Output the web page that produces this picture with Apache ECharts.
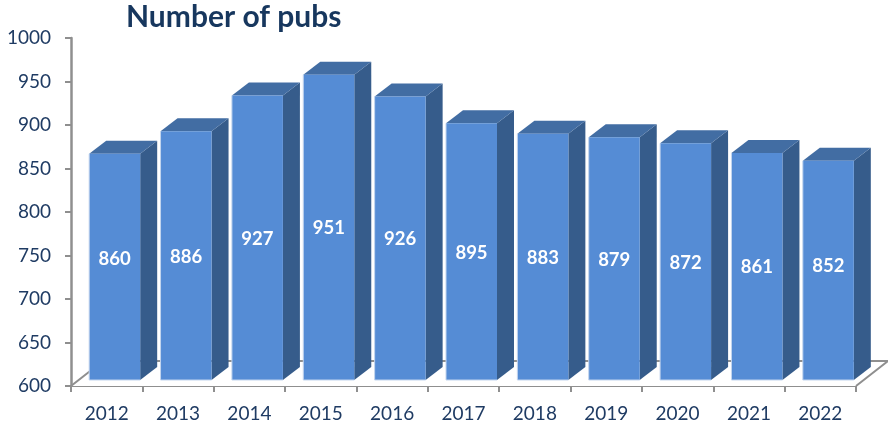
<!DOCTYPE html>
<html>
<head>
<meta charset="utf-8">
<style>html,body{margin:0;padding:0;background:#fff}#chart{width:888px;height:428px}</style>
<script src="https://cdn.jsdelivr.net/npm/echarts@6/dist/echarts.min.js"></script>
</head>
<body>
<div id="chart"></div>
<script>
// Yearly pub counts
const years = ['2012','2013','2014','2015','2016','2017','2018','2019','2020','2021','2022'];
const pubs = [860,886,927,951,926,895,883,879,872,861,852];
const chartTitle = 'Number of pubs';

// Vertical nudges for the two labels set off the face centre, in pixels
const labelNudge = {2012: -9, 2022: -5};

const FRONT = '#558cd5', SIDE = '#365c8b', TOP = '#426da3', EDGE = '#c3d5ee';
const INK = '#1f3b63', AXIS = '#8f8f8f';
const DEPTH_X = 17, DEPTH_Y = 13;     // bar extrusion
const FLOOR_X = 32, FLOOR_Y = 25;     // floor extrusion
const FRONT_LIFT = 6;                 // front faces stand this far above the axis plane
const BAR_W = 51;

function renderBar(params, api) {
  const i = api.value(0);
  const v = api.value(1);
  const cx = api.coord([i, v])[0] + DEPTH_X / 2 - 0.5;
  const x0 = cx - BAR_W / 2, x1 = cx + BAR_W / 2;
  const yTop = api.coord([i, v])[1] - FRONT_LIFT;
  const yBot = api.coord([i, 600])[1] - FRONT_LIFT;
  const dx = DEPTH_X, dy = DEPTH_Y;
  return {
    type: 'group',
    children: [
      {type: 'polygon', shape: {points: [[x1, yTop], [x1 + dx, yTop - dy], [x1 + dx, yBot - dy], [x1, yBot]]},
       style: {fill: SIDE}},
      {type: 'polygon', shape: {points: [[x0, yTop], [x0 + dx, yTop - dy], [x1 + dx, yTop - dy], [x1, yTop]]},
       style: {fill: TOP}},
      {type: 'rect', shape: {x: x0, y: yTop, width: BAR_W, height: yBot - yTop},
       style: {fill: FRONT}},
      // Soft highlight along the left and lower edges of the front face
      {type: 'polyline', shape: {points: [[x0, yTop], [x0, yBot], [x1, yBot]]},
       style: {fill: 'none', stroke: EDGE, lineWidth: 1}},
      {type: 'text', style: {
        text: String(v), x: cx, y: (yTop + yBot) / 2 + 1 + (labelNudge[years[i]] || 0),
        fill: '#fff', font: 'bold 18.5px Lato', align: 'center', verticalAlign: 'middle'}}
    ]
  };
}

// Floor outline: axis baseline pushed back to the rear wall
function renderFloor(params, api) {
  const a = api.coord([0, 600]);
  const band = api.size([1, 0])[0];
  const xL = a[0] - band / 2, xR = api.coord([years.length - 1, 600])[0] + band / 2, y = a[1];
  return {
    type: 'polyline',
    shape: {points: [[xL, y], [xL + FLOOR_X, y - FLOOR_Y], [xR + FLOOR_X, y - FLOOR_Y], [xR, y]]},
    style: {fill: '#fff', stroke: AXIS, lineWidth: 2}
  };
}

const chart = echarts.init(document.getElementById('chart'));
chart.setOption({
  animation: false,
  backgroundColor: '#fff',
  title: {
    text: chartTitle, left: 121, top: -3,
    textStyle: {fontFamily: 'Lato', fontWeight: 'bold', fontSize: 30, color: '#17375e'}
  },
  grid: {left: 71, right: 32, top: 38, bottom: 42},
  xAxis: {
    type: 'category', data: years,
    axisLine: {lineStyle: {color: AXIS, width: 2}},
    axisTick: {show: true, length: 6, alignWithLabel: false, lineStyle: {color: AXIS, width: 2}},
    axisLabel: {color: INK, fontFamily: 'Lato', fontSize: 19, margin: 18}
  },
  yAxis: {
    type: 'value', min: 600, max: 1000, interval: 50,
    axisLine: {show: true, lineStyle: {color: AXIS, width: 2.5}},
    axisTick: {show: true, length: 6, lineStyle: {color: AXIS, width: 2}},
    axisLabel: {color: INK, fontFamily: 'Lato', fontSize: 19, margin: 20, formatter: v => String(v)},
    splitLine: {show: false}
  },
  series: [
    {type: 'custom', renderItem: renderFloor, data: [[0, 600]], encode: {x: 0, y: 1}, z: 1, silent: true, clip: false},
    {type: 'custom', renderItem: renderBar, data: pubs.map((v, i) => [i, v]), encode: {x: 0, y: 1}, z: 2, clip: false}
  ]
});
</script>
</body>
</html>
